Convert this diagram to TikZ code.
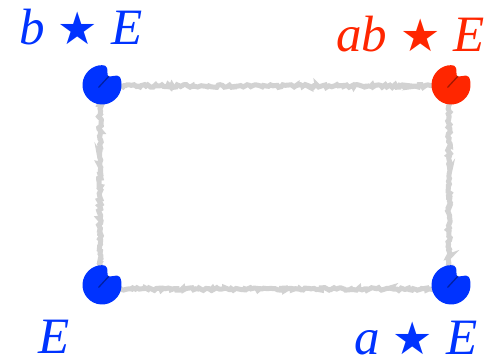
\documentclass[tikz,border=0pt]{standalone}
\usepackage{fontspec}
\setmainfont{Liberation Serif}
\newfontfamily\symf{DejaVu Sans}
\usetikzlibrary{decorations.pathmorphing,calc}
\definecolor{vblue}{RGB}{0,51,255}
\definecolor{vred}{RGB}{255,38,0}
\definecolor{edgegray}{RGB}{210,210,210}
\newcommand\myblob[2]{%
  \fill[#2, rounded corners=2pt] ($(#1)+(75:19.5)$) arc[start angle=75,end angle=390,radius=19.5] -- ($(#1)+(55:10)$) -- cycle;
  \draw[black!45!#2, opacity=0.8, line width=1.3pt, line cap=round] ($(#1)+(215:4)$) -- ($(#1)+(52:11)$);
}
\newcommand\sstar{\hspace{13pt}{\upshape\symf\fontsize{45}{48}\selectfont ★}\hspace{13pt}}
\begin{document}
\begin{tikzpicture}[x=1pt,y=1pt,
  edge/.style={draw=edgegray, line width=5pt, line cap=round,
    decorate, decoration={random steps, segment length=2pt, amplitude=1.4pt}},
  lab/.style={inner sep=0pt, anchor=base west, text depth=0pt, font=\fontsize{51}{60}\selectfont\itshape}]
\useasboundingbox (0,0) rectangle (499,359);
\pgfmathsetseed{7}
\coordinate (tl) at (102,274);
\coordinate (tr) at (451,274);
\coordinate (bl) at (102,74);
\coordinate (br) at (451,74);
\draw[edge] ([yshift=-1]tl) -- ([yshift=-1]tr);
\draw[edge] ([yshift=-4, xshift=-2]bl) -- ([yshift=-4, xshift=-2]br);
\draw[edge] ([xshift=-2]tl) -- ([xshift=-2]bl);
\draw[edge] ([xshift=-2]tr) -- ([xshift=-2]br);
\myblob{tl}{vblue}
\myblob{tr}{vred}
\myblob{bl}{vblue}
\myblob{br}{vblue}
\node[lab, text=vblue] (ltl) at (19,314) {b\sstar E};
\node[lab, text=vred] (ltr) at (336,307) {ab\sstar E};
\node[lab, text=vblue] (lbl) at (38,5) {E};
\node[lab, text=vblue] (lbr) at (354,4) {a\sstar E};
\end{tikzpicture}
\end{document}
